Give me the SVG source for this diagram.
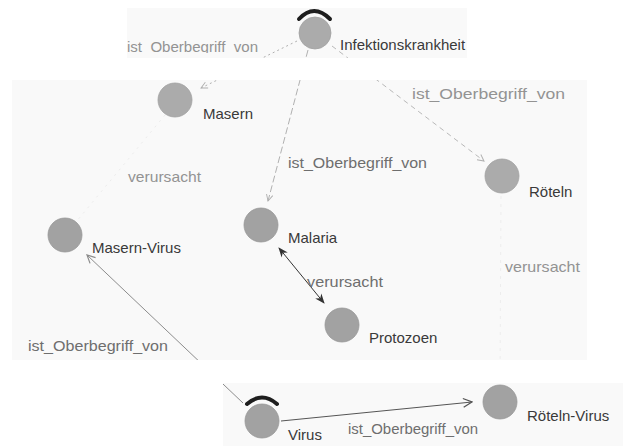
<svg xmlns="http://www.w3.org/2000/svg" width="623" height="446" viewBox="0 0 623 446">
  <style>
    text { font-family: "Liberation Sans", Arial, sans-serif; font-size: 15px; }
    .panel { fill: #f9f9f9; }
    .node { fill: #ababab; stroke: #a2a2a2; stroke-width: 0.8; }
    .node.dark { fill: #a2a2a2; stroke: #989898; }
    .label { fill: #3a3a3a; }
    .elabel { fill: #6e6e6e; }
    .elabel.faint { fill: #939393; }
    .marker-arc { fill: none; stroke: #1e1e1e; stroke-width: 4; stroke-linecap: round; }
    .edge { fill: none; stroke-width: 1; }
  </style>
  <defs>
    <marker id="open-light" viewBox="0 0 10 10" refX="9" refY="5" markerWidth="8" markerHeight="8" markerUnits="userSpaceOnUse" orient="auto">
      <path d="M1,1 L9,5 L1,9" fill="none" stroke="#b0b0b0" stroke-width="1.2"/>
    </marker>
    <marker id="open-mid" viewBox="0 0 10 10" refX="9" refY="5" markerWidth="10" markerHeight="10" markerUnits="userSpaceOnUse" orient="auto">
      <path d="M1,1 L9,5 L1,9" fill="none" stroke="#8c8c8c" stroke-width="1.2"/>
    </marker>
    <marker id="open-dark" viewBox="0 0 10 10" refX="9" refY="5" markerWidth="11" markerHeight="11" markerUnits="userSpaceOnUse" orient="auto">
      <path d="M1,1 L9,5 L1,9" fill="none" stroke="#555" stroke-width="1.2"/>
    </marker>
    <marker id="solid-dark" viewBox="0 0 10 10" refX="9" refY="5" markerWidth="10" markerHeight="10" markerUnits="userSpaceOnUse" orient="auto-start-reverse">
      <path d="M0,1 L10,5 L0,9 L3,5 z" fill="#333"/>
    </marker>
    <clipPath id="panels">
      <rect x="127" y="8" width="340" height="50"/>
      <rect x="12" y="80" width="575" height="280"/>
      <rect x="223" y="383" width="400" height="63"/>
    </clipPath>
    <clipPath id="strip-text">
      <rect x="127" y="8" width="340" height="45"/>
    </clipPath>
  </defs>

  <!-- background panels -->
  <rect width="623" height="446" fill="#ffffff"/>
  <rect class="panel" x="127" y="8" width="340" height="50"/>
  <rect class="panel" x="12" y="80" width="575" height="280"/>
  <rect class="panel" x="223" y="383" width="400" height="63"/>

  <!-- connectors -->
  <g id="connectors" clip-path="url(#panels)">
    <path class="edge" d="M297,41 L201,88" stroke="#b0b0b0" stroke-dasharray="2 3" marker-end="url(#open-light)"/>
    <path class="edge" d="M308,50 L268,201" stroke="#b0b0b0" stroke-dasharray="7 3" marker-end="url(#open-light)"/>
    <path class="edge" d="M332,46 L484,161" stroke="#b8b8b8" stroke-dasharray="5 4" marker-end="url(#open-light)"/>
    <path class="edge" d="M165,115 L76,222" stroke="#ececec" stroke-dasharray="2 5"/>
    <path class="edge" d="M279,248 L324,303" stroke="#333" stroke-width="1.4" marker-start="url(#solid-dark)" marker-end="url(#solid-dark)"/>
    <path class="edge" d="M501,196 L500,383" stroke="#ededed" stroke-dasharray="3 5"/>
    <path class="edge" d="M243,403 L87,255" stroke="#8c8c8c" marker-end="url(#open-mid)"/>
    <path class="edge" d="M281,421 L472,402" stroke="#555" stroke-width="1.1" marker-end="url(#open-dark)"/>

    <text class="elabel faint" x="127" y="52" textLength="131" lengthAdjust="spacingAndGlyphs" clip-path="url(#strip-text)">ist_Oberbegriff_von</text>
    <text class="elabel" x="288" y="168" textLength="139" lengthAdjust="spacingAndGlyphs">ist_Oberbegriff_von</text>
    <text class="elabel faint" x="412" y="99" textLength="153" lengthAdjust="spacingAndGlyphs">ist_Oberbegriff_von</text>
    <text class="elabel faint" x="128" y="182" textLength="73" lengthAdjust="spacingAndGlyphs">verursacht</text>
    <text class="elabel" x="307" y="287" textLength="76" lengthAdjust="spacingAndGlyphs">verursacht</text>
    <text class="elabel faint" x="505" y="272" textLength="75" lengthAdjust="spacingAndGlyphs">verursacht</text>
    <text class="elabel" x="28" y="351" textLength="140" lengthAdjust="spacingAndGlyphs">ist_Oberbegriff_von</text>
    <text class="elabel" x="348" y="434" textLength="130" lengthAdjust="spacingAndGlyphs">ist_Oberbegriff_von</text>
  </g>

  <!-- nodes -->
  <g id="node-infektionskrankheit">
    <path class="marker-arc" d="M299,19 Q314,3 330,19"/>
    <circle class="node" cx="315" cy="33" r="16"/>
    <text class="label" x="340" y="50">Infektionskrankheit</text>
  </g>
  <g id="node-masern">
    <circle class="node" cx="175" cy="100" r="17"/>
    <text class="label" x="203" y="119">Masern</text>
  </g>
  <g id="node-roeteln">
    <circle class="node" cx="502" cy="176" r="17"/>
    <text class="label" x="529" y="197">Röteln</text>
  </g>
  <g id="node-malaria">
    <circle class="node dark" cx="261" cy="225" r="17"/>
    <text class="label" x="288" y="243">Malaria</text>
  </g>
  <g id="node-masern-virus">
    <circle class="node dark" cx="65" cy="235" r="17"/>
    <text class="label" x="92" y="253">Masern-Virus</text>
  </g>
  <g id="node-protozoen">
    <circle class="node dark" cx="342" cy="325" r="17"/>
    <text class="label" x="369" y="343">Protozoen</text>
  </g>
  <g id="node-virus">
    <path class="marker-arc" d="M247,404 Q262,391 277,404"/>
    <circle class="node dark" cx="262" cy="421" r="17"/>
    <text class="label" x="288" y="440">Virus</text>
  </g>
  <g id="node-roeteln-virus">
    <circle class="node dark" cx="500" cy="402" r="17"/>
    <text class="label" x="527" y="421">Röteln-Virus</text>
  </g>
</svg>
